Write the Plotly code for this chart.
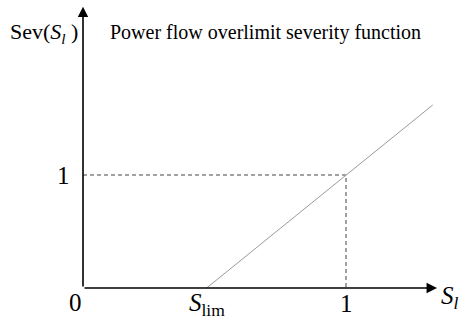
import plotly.graph_objects as go

# data (in chart units: S_l on x, Sev on y)
s_lim = 0.47
line_x = [0.47, 1.33]
line_y = [0.0, 1.62]
ref_x = 1.0
ref_y = 1.0
x_axis_end = 1.346
y_axis_end = 2.49
x_tick_labels = ["0", "<i>S</i><sub>lim</sub>", "1"]
x_tick_pos = [-0.03, 0.47, 1.0]
title_text = "Power flow overlimit severity function"

FONT = "Liberation Serif, Times New Roman, serif"

fig = go.Figure()

# dashed reference lines
fig.add_trace(go.Scatter(x=[0, ref_x, ref_x], y=[ref_y, ref_y, 0], mode="lines",
                         line=dict(color="#444444", width=1, dash="4px,3px"),
                         hoverinfo="skip", showlegend=False))
# severity line
fig.add_trace(go.Scatter(x=line_x, y=line_y, mode="lines",
                         line=dict(color="#9a9a9a", width=1),
                         hoverinfo="skip", showlegend=False))

anns = []
# axes with arrows
anns.append(dict(x=x_axis_end, y=0, ax=0, ay=0, xref="x", yref="y", axref="x", ayref="y",
                 showarrow=True, arrowhead=2, arrowsize=1.3, arrowwidth=1.6,
                 arrowcolor="black", standoff=0, text=""))
anns.append(dict(x=0, y=y_axis_end, ax=0, ay=0, xref="x", yref="y", axref="x", ayref="y",
                 showarrow=True, arrowhead=2, arrowsize=1.3, arrowwidth=1.6,
                 arrowcolor="black", standoff=0, text=""))

# x labels
anns.append(dict(x=x_tick_pos[0], y=-0.125, text=x_tick_labels[0], showarrow=False,
                 xref="x", yref="y", font=dict(family=FONT, size=25, color="black")))
anns.append(dict(x=x_tick_pos[1], y=-0.15, text=x_tick_labels[1], showarrow=False,
                 xref="x", yref="y", font=dict(family=FONT, size=25, color="black")))
anns.append(dict(x=x_tick_pos[2], y=-0.14, text=x_tick_labels[2], showarrow=False,
                 xref="x", yref="y", font=dict(family=FONT, size=25, color="black")))
# y label 1
anns.append(dict(x=-0.075, y=ref_y, text="1", showarrow=False,
                 xref="x", yref="y", font=dict(family=FONT, size=25, color="black")))
# axis names
anns.append(dict(x=1.395, y=-0.085, text="<i>S</i><sub><i>l</i></sub>", showarrow=False,
                 xref="x", yref="y", font=dict(family=FONT, size=25, color="black")))
anns.append(dict(x=-0.148, y=2.26, text="Sev(<i>S</i><sub><i>l</i></sub> )", showarrow=False,
                 xref="x", yref="y", font=dict(family=FONT, size=22, color="black")))
anns.append(dict(x=0.095, y=2.26, text=title_text, showarrow=False, xanchor="left",
                 xref="x", yref="y", font=dict(family=FONT, size=20, color="black")))

fig.update_layout(
    width=465, height=322, autosize=False,
    margin=dict(l=0, r=0, t=0, b=0),
    paper_bgcolor="white", plot_bgcolor="white",
    xaxis=dict(range=[-0.3156, 1.4525], visible=False, fixedrange=True),
    yaxis=dict(range=[-0.301, 2.549], visible=False, fixedrange=True),
    annotations=anns, showlegend=False,
)

fig.write_html("out.html")
